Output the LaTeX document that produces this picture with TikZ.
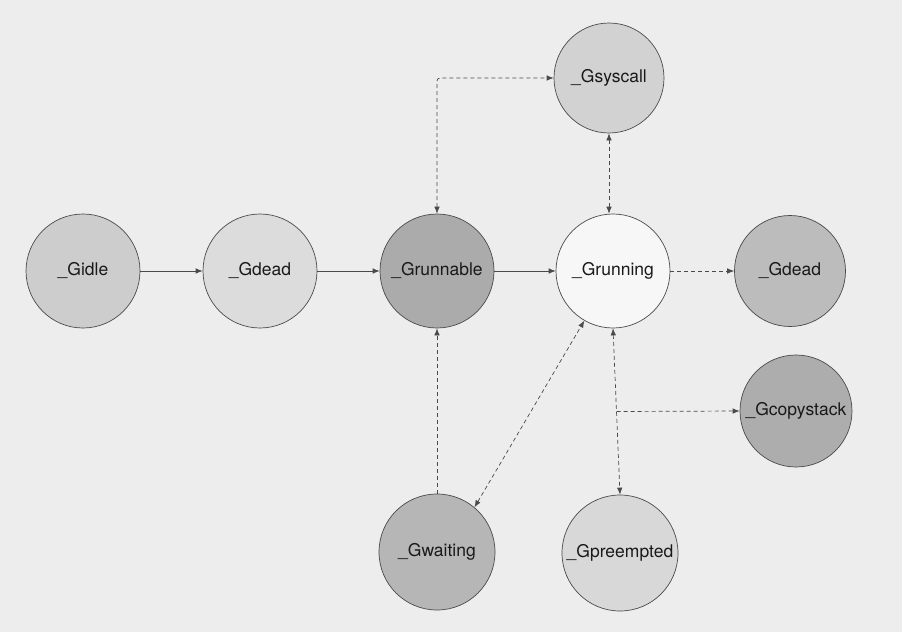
\documentclass[tikz,border=0pt]{standalone}
\usepackage{fontspec}
\setmainfont{TeX Gyre Heros}
\usetikzlibrary{arrows.meta,calc}
\definecolor{paper}{HTML}{EDEDED}
\definecolor{edge}{HTML}{4A4A4A}
\definecolor{cIdle}{HTML}{CDCDCD}
\definecolor{cDeadA}{HTML}{DCDCDC}
\definecolor{cRunnable}{HTML}{ABABAB}
\definecolor{cRunning}{HTML}{F7F7F7}
\definecolor{cSyscall}{HTML}{D2D2D2}
\definecolor{cDeadB}{HTML}{BCBCBC}
\definecolor{cCopy}{HTML}{ADADAD}
\definecolor{cWait}{HTML}{B6B6B6}
\definecolor{cPre}{HTML}{D8D8D8}
\tikzset{
  state/.style={circle, draw=edge, line width=0.7pt, minimum size=114pt, inner sep=0pt,
    font=\fontsize{17.5}{20}\selectfont, text=black!90},
  solidarrow/.style={draw=edge, line width=0.7pt, -{Latex[length=7pt,width=5.5pt]}},
  dasharrow/.style={draw=edge, line width=0.7pt, dash pattern=on 4pt off 3pt, -{Latex[length=7pt,width=5.5pt]}},
  dashboth/.style={draw=edge, line width=0.7pt, dash pattern=on 4pt off 3pt, {Latex[length=7pt,width=5.5pt]}-{Latex[length=7pt,width=5.5pt]}}
}
\begin{document}
\begin{tikzpicture}[x=1pt,y=-1pt]
\useasboundingbox (0,0) rectangle (902,632);
\fill[paper] (0,0) rectangle (902,632);

\node[state, fill=cIdle]     (gi)   at (83,271)  {\_Gidle};
\node[state, fill=cDeadA]    (gd)   at (260,271) {\_Gdead};
\node[state, fill=cRunnable] (grb)  at (437,271) {\_Grunnable};
\node[state, fill=cRunning]  (grun) at (613,271) {\_Grunning};
\node[state, fill=cSyscall, minimum size=110pt] (gs) at (609,78) {\_Gsyscall};
\node[state, fill=cDeadB, minimum size=111pt]   (gd2) at (790,271) {\_Gdead};
\node[state, fill=cCopy, minimum size=112pt]    (gc) at (796,411) {\_Gcopystack};
\node[state, fill=cWait, minimum size=116pt]    (gw) at (437,552) {\_Gwaiting};
\node[state, fill=cPre, minimum size=116pt]     (gp) at (620,553) {\_Gpreempted};

\draw[solidarrow] (gi.east) -- (gd.west);
\draw[solidarrow] (gd.east) -- (grb.west);
\draw[solidarrow] (grb.east) -- (grun.west);

\draw[dashboth, rounded corners=3pt] (grb.north) |- (gs.west);
\draw[dashboth] (gs.south) -- (gs.south |- grun.north);
\draw[dasharrow] (grun.east) -- (gd2.west);

\draw[dasharrow] (gw.north) -- (grb.south);
\draw[dashboth] (gw.50) -- (grun.240);

\draw[dashboth] (grun.south) -- (gp.north);
\coordinate (br) at ($(grun.south)!0.5!(gp.north)$);
\draw[dasharrow] (br) -- (gc.west);
\end{tikzpicture}
\end{document}
